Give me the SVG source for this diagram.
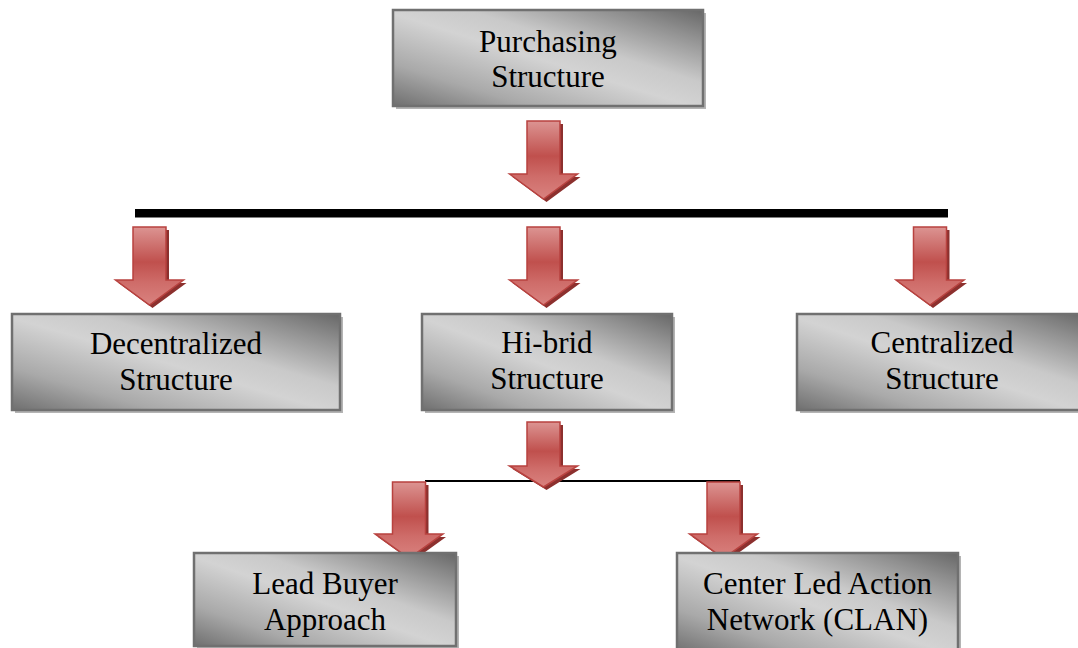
<svg xmlns="http://www.w3.org/2000/svg" width="1078" height="648" viewBox="0 0 1078 648">
<defs>
<linearGradient id="gBox" x1="0" y1="1" x2="1" y2="0">
<stop offset="0" stop-color="#6f6f6f"/>
<stop offset="0.22" stop-color="#a9a9a9"/>
<stop offset="0.48" stop-color="#d3d3d3"/>
<stop offset="0.62" stop-color="#c9c9c9"/>
<stop offset="0.85" stop-color="#8f8f8f"/>
<stop offset="1" stop-color="#676767"/>
</linearGradient>
<linearGradient id="gArr" x1="0" y1="0" x2="0" y2="1">
<stop offset="0" stop-color="#dc9492"/>
<stop offset="0.45" stop-color="#c0504d"/>
<stop offset="0.72" stop-color="#cf6d6a"/>
<stop offset="1" stop-color="#d9827f"/>
</linearGradient>
<path id="arr" d="M-16.5,0 H16.5 V53 H34 L0,78 L-34,53 H-16.5 Z"/>
<path id="arrS" d="M-16.5,0 H16.5 V44 H34 L0,65 L-34,44 H-16.5 Z"/>
</defs>
<style>
.box{fill:url(#gBox);stroke:#707070;stroke-width:2.5}
.shd{fill:#b4b4b4}
.t{font-family:"Liberation Serif","Times New Roman",serif;font-size:31px;fill:#000;text-anchor:middle}
.ash{fill:#8c302e}
.af{fill:url(#gArr);stroke:#b8423f;stroke-width:1.5}
</style>
<rect width="1078" height="648" fill="#ffffff"/>

<g id="connectors">
<rect x="135" y="209" width="813" height="8.5" fill="#000"/>
<line x1="425" y1="481" x2="740" y2="481" stroke="#000" stroke-width="2"/>
<g transform="translate(543.5,121)"><use href="#arr" class="ash" transform="translate(3,3)"/><use href="#arr" class="af"/></g>
<g transform="translate(149.5,227) scale(1,1)"><use href="#arr" class="ash" transform="translate(3,3)"/><use href="#arr" class="af" transform="scale(1,1)"/></g>
<g transform="translate(543.5,227)"><use href="#arr" class="ash" transform="translate(3,3)"/><use href="#arr" class="af"/></g>
<g transform="translate(930,227)"><use href="#arr" class="ash" transform="translate(3,3)"/><use href="#arr" class="af"/></g>
<g transform="translate(543.5,422)"><use href="#arrS" class="ash" transform="translate(3,3)"/><use href="#arrS" class="af"/></g>
<g transform="translate(409,482) scale(1,0.98)"><use href="#arr" class="ash" transform="translate(3,3)"/><use href="#arr" class="af"/></g>
<g transform="translate(723.5,482) scale(1,0.98)"><use href="#arr" class="ash" transform="translate(3,3)"/><use href="#arr" class="af"/></g>
</g>

<g id="purchasing">
<rect class="shd" x="396" y="13" width="310" height="96"/>
<rect class="box" x="393" y="10" width="310" height="96"/>
<text class="t" x="548" y="52">Purchasing</text>
<text class="t" x="548" y="87">Structure</text>
</g>

<g id="decentralized">
<rect class="shd" x="15" y="317" width="328" height="96"/>
<rect class="box" x="12" y="314" width="328" height="96"/>
<text class="t" x="176" y="354">Decentralized</text>
<text class="t" x="176" y="390">Structure</text>
</g>

<g id="hibrid">
<rect class="shd" x="425" y="317" width="250" height="96"/>
<rect class="box" x="422" y="314" width="250" height="96"/>
<text class="t" x="547" y="353">Hi-brid</text>
<text class="t" x="547" y="389">Structure</text>
</g>

<g id="centralized">
<rect class="shd" x="800" y="317" width="290" height="96"/>
<rect class="box" x="797" y="314" width="290" height="96"/>
<text class="t" x="942" y="353">Centralized</text>
<text class="t" x="942" y="389">Structure</text>
</g>

<g id="leadbuyer">
<rect class="shd" x="197" y="556" width="262" height="93"/>
<rect class="box" x="194" y="553" width="262" height="93"/>
<text class="t" x="325" y="594">Lead Buyer</text>
<text class="t" x="325" y="630">Approach</text>
</g>

<g id="clan">
<rect class="shd" x="680" y="556" width="281" height="100"/>
<rect class="box" x="677" y="553" width="281" height="100"/>
<text class="t" x="817.5" y="594">Center Led Action</text>
<text class="t" x="817.5" y="630">Network (CLAN)</text>
</g>
</svg>
